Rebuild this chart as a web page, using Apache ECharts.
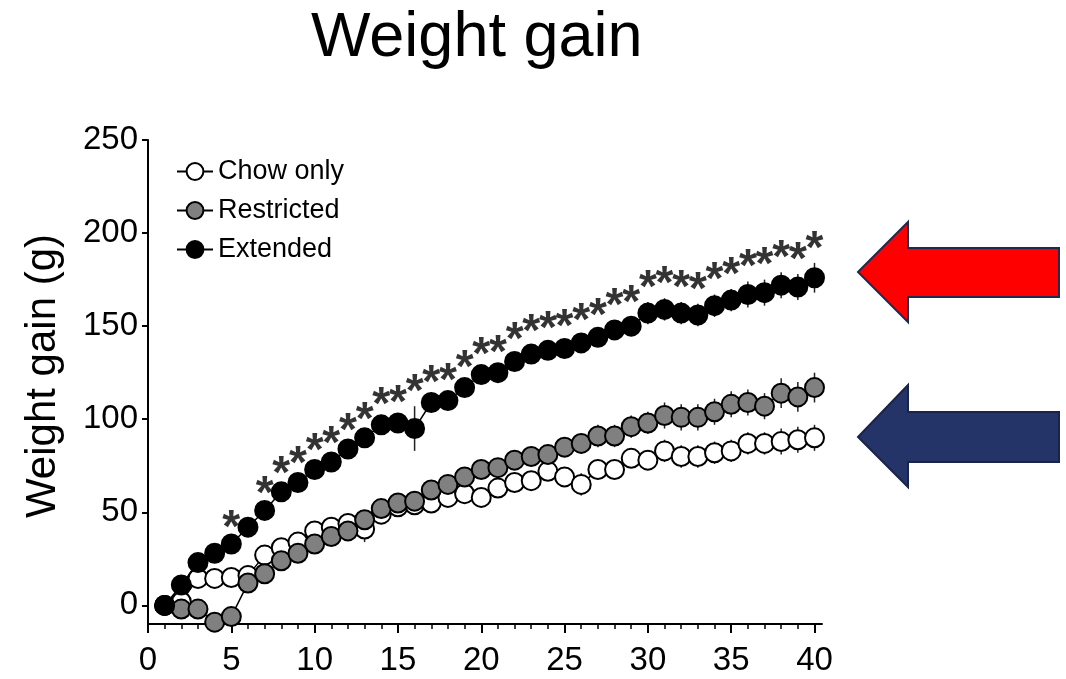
<!DOCTYPE html>
<html>
<head>
<meta charset="utf-8">
<script src="https://cdn.jsdelivr.net/npm/echarts@6/dist/echarts.min.js"></script>
<style>
html,body{margin:0;padding:0;background:#fff;}
#chart{width:1066px;height:679px;}
</style>
</head>
<body>
<div id="chart"></div>
<script>
// ---- data ----
const days = [1,2,3,4,5,6,7,8,9,10,11,12,13,14,15,16,17,18,19,20,21,22,23,24,25,26,27,28,29,30,31,32,33,34,35,36,37,38,39,40];
const chowOnly   = [0,2,14.5,14.5,15,16,27,31,34,40,42,44,41,49,53,54,55,58,60,58,63,66,67,72,69,65,73,73,79,78,83,80,80,82,83,87,87,88,89,90];
const chowErr    = [0,1,2,2,2,2,3,3,3,3,3,4,7,4,4,4,4,4,4,5,5,5,5,5,5,6,5,5,5,5,6,6,6,6,6,6,6,7,7,7];
const restricted = [0,-2,-2,-9,-6,12,17,24,28,33,37,40,46,52,55,56,62,65,69,73,74,78,80,81,85,87,91,91,96,98,102,101,101,104,108,109,107,114,112,117];
const restErr    = [0,1,1,2,2,2,3,3,3,3,3,3,4,4,4,4,4,4,5,5,5,5,5,5,5,5,6,6,6,6,7,7,7,7,7,7,7,8,8,8];
const extended   = [0,11,23,28,33,42,51,61,66,73,77,84,90,97,98,95,109,110,117,124,125,131,135,137,138,141,144,148,150,157,159,157,156,161,164,167,168,172,171,176];
const extErr     = [0,1,1,1,1,1,1,2,2,2,2,2,2,3,3,12,3,3,3,3,3,4,4,4,4,4,4,5,5,6,6,6,6,6,6,7,7,7,7,8];
const sigDays    = [5,7,8,9,10,11,12,13,14,15,16,17,18,19,20,21,22,23,24,25,26,27,28,29,30,31,32,33,34,35,36,37,38,39,40];
const xTicks = [0,5,10,15,20,25,30,35,40];
const xMinorTicks = days.slice();
const yTicks = [0,50,100,150,200,250];
const seriesNames = ['Chow only','Restricted','Extended'];

// ---- chart ----
const FONT = '"Liberation Sans", Arial, Helvetica, sans-serif';
const chart = echarts.init(document.getElementById('chart'), null, {renderer:'canvas'});

function pairs(vals){ return days.map((d,i)=>[d, vals[i]]); }
function errData(vals, errs){ return days.map((d,i)=>[d, vals[i]-errs[i], vals[i]+errs[i]]); }
function errSeries(vals, errs, z){
  return {
    type:'custom', xAxisIndex:0, yAxisIndex:0, z:z, silent:true,
    data: errData(vals, errs),
    renderItem: function(params, api){
      const lo = api.coord([api.value(0), api.value(1)]);
      const hi = api.coord([api.value(0), api.value(2)]);
      return {type:'line', shape:{x1:lo[0],y1:lo[1],x2:hi[0],y2:hi[1]}, style:{stroke:'#222', lineWidth:1.5}};
    }
  };
}
function lineSeries(name, vals, fill, z){
  return {
    name:name, type:'line', xAxisIndex:0, yAxisIndex:0, z:z,
    data: pairs(vals),
    symbol:'circle', symbolSize:19, showSymbol:true,
    itemStyle:{color:fill, borderColor:'#000', borderWidth:2},
    lineStyle:{color:'#000', width:1.5},
    emphasis:{disabled:true}, animation:false
  };
}
const starData = sigDays.map(d=>{ const i = days.indexOf(d); return [d, extended[i] + extErr[i]]; });

const option = {
  backgroundColor:'#fff',
  animation:false,
  title:{
    text:'Weight gain', left:311, top:7, padding:0,
    textStyle:{fontFamily:FONT, fontSize:63, fontWeight:'normal', color:'#000'}
  },
  legend:{
    data:seriesNames, orient:'vertical', left:171, top:153,
    itemWidth:36, itemHeight:21, itemGap:12,
    textStyle:{fontFamily:FONT, fontSize:27, color:'#000'},
    selectedMode:false
  },
  grid:{left:148, top:140, right:244, bottom:55, containLabel:false, outerBoundsMode:'none'},
  xAxis:[{
    type:'value', min:0, max:40.45, position:'bottom',
    axisLine:{show:true, onZero:false, lineStyle:{color:'#000', width:2}},
    axisTick:{show:true, length:9, customValues:xTicks, lineStyle:{color:'#000', width:2}},
    axisLabel:{show:true, customValues:xTicks, margin:20, fontFamily:FONT, fontSize:33, color:'#000'},
    splitLine:{show:false}
  },{
    type:'value', min:0, max:40.45, position:'bottom', gridIndex:0,
    axisLine:{show:false, onZero:false},
    axisTick:{show:true, length:5, customValues:xMinorTicks, lineStyle:{color:'#000', width:1.5}},
    axisLabel:{show:false},
    splitLine:{show:false}
  }],
  yAxis:{
    type:'value', min:-10, max:250,
    name:'Weight gain (g)', nameLocation:'middle', nameGap:84, nameRotate:90,
    nameTextStyle:{fontFamily:FONT, fontSize:42, color:'#000', padding:[0,0,0,12]},
    axisLine:{show:true, onZero:false, lineStyle:{color:'#000', width:2}},
    axisTick:{show:true, length:6, customValues:yTicks, lineStyle:{color:'#000', width:2}},
    axisLabel:{show:true, customValues:yTicks, margin:10, fontFamily:FONT, fontSize:33, color:'#000'},
    splitLine:{show:false}
  },
  series:[
    errSeries(chowOnly, chowErr, 2),
    lineSeries('Chow only', chowOnly, '#ffffff', 3),
    errSeries(restricted, restErr, 4),
    lineSeries('Restricted', restricted, '#808080', 5),
    errSeries(extended, extErr, 6),
    lineSeries('Extended', extended, '#000000', 7),
    {
      type:'scatter', z:8, silent:true, data:starData,
      symbol:'circle', symbolSize:0, itemStyle:{color:'transparent'},
      label:{show:true, formatter:'*', position:'top', distance:-10, fontFamily:FONT, fontWeight:'bold', fontSize:46, color:'#000'}
    }
  ],
  graphic:[
    {type:'polygon', shape:{points:[[858,272],[908,222],[908,248],[1059,248],[1059,297],[908,297],[908,322]]},
     style:{fill:'#ff0000', stroke:'#1f2a50', lineWidth:2}},
    {type:'polygon', shape:{points:[[858,437],[908,385],[908,412],[1059,412],[1059,462],[908,462],[908,487]]},
     style:{fill:'#253468', stroke:'#1a2448', lineWidth:2}}
  ]
};
chart.setOption(option);
</script>
</body>
</html>
